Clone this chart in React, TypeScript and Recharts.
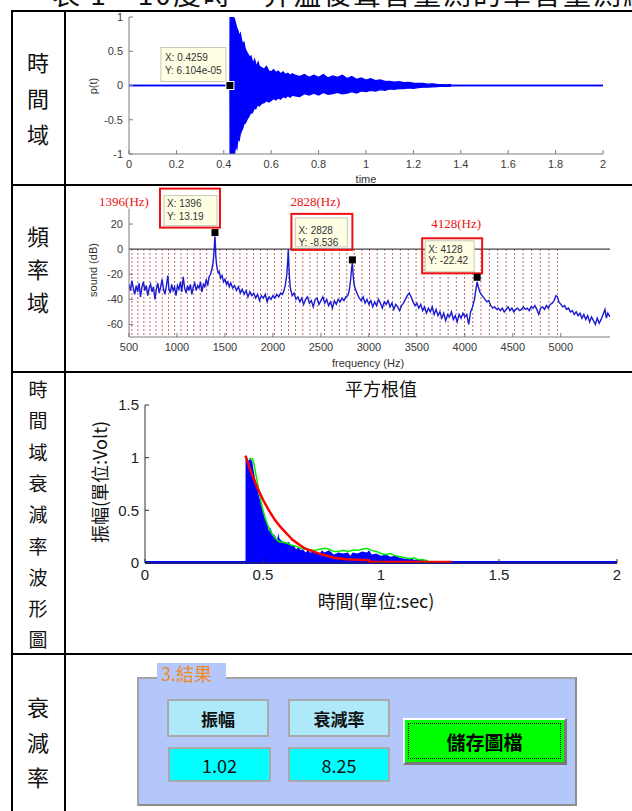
import React from "react";
import {
  Area,
  ComposedChart,
  Line,
  ReferenceDot,
  ReferenceLine,
  XAxis,
  YAxis,
} from "recharts";

const SANS = "'Liberation Sans', Arial, Helvetica, sans-serif";
const CJK = "'Noto Sans CJK TC', 'Noto Sans CJK SC', sans-serif";
const SERIF = "'Liberation Serif', 'Times New Roman', serif";

// ---------- row 1: time signal p(t), drawn as its min/max envelope ----------
const waveT = [
  0, 0.4259, 0.4265, 0.44, 0.445, 0.45, 0.455, 0.46, 0.465, 0.47,
  0.475, 0.48, 0.485, 0.49, 0.495, 0.5, 0.505, 0.51, 0.515, 0.52,
  0.525, 0.53, 0.535, 0.54, 0.545, 0.55, 0.56, 0.57, 0.58, 0.59,
  0.6, 0.61, 0.62, 0.63, 0.64, 0.65, 0.66, 0.67, 0.68, 0.69,
  0.7, 0.72, 0.74, 0.76, 0.78, 0.8, 0.82, 0.84, 0.86, 0.88,
  0.9, 0.92, 0.94, 0.96, 0.98, 1.0, 1.02, 1.04, 1.06, 1.08,
  1.1, 1.12, 1.14, 1.16, 1.18, 1.2, 1.22, 1.24, 1.26, 1.28,
  1.3, 1.32, 1.34, 1.355, 1.36, 2,
];
const waveHi = [
  0, 0, 1, 1, 0.97, 0.9, 0.84, 0.8, 0.72, 0.76,
  0.66, 0.6, 0.63, 0.54, 0.5, 0.47, 0.44, 0.41, 0.43, 0.36,
  0.33, 0.38, 0.31, 0.3, 0.34, 0.28, 0.26, 0.24, 0.28, 0.21,
  0.2, 0.23, 0.19, 0.21, 0.17, 0.2, 0.16, 0.18, 0.15, 0.17,
  0.15, 0.13, 0.16, 0.12, 0.15, 0.12, 0.16, 0.11, 0.14, 0.12,
  0.15, 0.1, 0.13, 0.09, 0.11, 0.08, 0.1, 0.07, 0.08, 0.06,
  0.06, 0.05, 0.055, 0.04, 0.045, 0.035, 0.03, 0.032, 0.02, 0.025,
  0.015, 0.012, 0.01, 0.014, 0, 0,
];
const waveLo = [
  0, 0, -1, -1, -1, -0.88, -0.92, -0.78, -0.8, -0.7,
  -0.66, -0.62, -0.56, -0.55, -0.52, -0.48, -0.46, -0.42, -0.4, -0.4,
  -0.36, -0.32, -0.34, -0.3, -0.28, -0.3, -0.26, -0.25, -0.22, -0.24,
  -0.22, -0.19, -0.21, -0.18, -0.2, -0.16, -0.18, -0.15, -0.17, -0.14,
  -0.15, -0.16, -0.12, -0.14, -0.11, -0.14, -0.1, -0.13, -0.12, -0.1,
  -0.12, -0.11, -0.09, -0.11, -0.08, -0.09, -0.07, -0.08, -0.06, -0.07,
  -0.05, -0.055, -0.04, -0.045, -0.035, -0.04, -0.03, -0.025, -0.025, -0.02,
  -0.015, -0.01, -0.012, -0.014, 0, 0,
];
const timeTicks = [0, 0.2, 0.4, 0.6, 0.8, 1, 1.2, 1.4, 1.6, 1.8, 2];
const ampTicks = [-1, -0.5, 0, 0.5, 1];
const onsetT = 0.4259;
const onsetY = 6.104e-5;

// ---------- row 2: spectrum ----------
const specHz = [
  500, 515, 530, 545, 560, 575, 590, 605, 620, 635, 650, 665, 680, 695, 710, 725, 740, 755, 770, 785,
  800, 815, 830, 845, 860, 875, 890, 905, 915, 930, 945, 960, 975, 990, 1005, 1020, 1035, 1050, 1065, 1080,
  1095, 1110, 1125, 1140, 1155, 1170, 1185, 1200, 1215, 1230, 1245, 1260, 1275, 1290, 1305, 1320, 1335, 1350, 1360, 1370,
  1380, 1388, 1393, 1396, 1400, 1405, 1412, 1420, 1430, 1440, 1455, 1470, 1485, 1500, 1515, 1530, 1545, 1560, 1580, 1600,
  1620, 1640, 1660, 1680, 1700, 1720, 1740, 1760, 1780, 1800, 1820, 1840, 1860, 1880, 1900, 1920, 1940, 1960, 1980, 2000,
  2020, 2040, 2060, 2080, 2100, 2115, 2130, 2145, 2155, 2160, 2165, 2172, 2180, 2190, 2200, 2220, 2240, 2260, 2280, 2300,
  2320, 2340, 2360, 2380, 2400, 2420, 2440, 2460, 2480, 2500, 2520, 2540, 2560, 2580, 2600, 2620, 2640, 2660, 2680, 2700,
  2720, 2740, 2760, 2780, 2795, 2810, 2820, 2828, 2835, 2845, 2860, 2880, 2900, 2920, 2940, 2960, 2980, 3000, 3020, 3040,
  3060, 3080, 3100, 3120, 3140, 3160, 3180, 3200, 3220, 3240, 3260, 3280, 3300, 3320, 3340, 3360, 3380, 3400, 3420, 3440,
  3460, 3480, 3500, 3520, 3540, 3560, 3580, 3600, 3620, 3640, 3660, 3680, 3700, 3720, 3740, 3760, 3780, 3800, 3820, 3840,
  3860, 3880, 3900, 3920, 3940, 3960, 3980, 4000, 4020, 4040, 4060, 4080, 4100, 4115, 4128, 4140, 4155, 4170, 4190, 4210,
  4230, 4250, 4270, 4290, 4310, 4330, 4350, 4370, 4390, 4410, 4430, 4450, 4470, 4490, 4510, 4530, 4550, 4570, 4590, 4610,
  4630, 4650, 4670, 4690, 4710, 4730, 4750, 4770, 4790, 4810, 4830, 4850, 4870, 4890, 4910, 4930, 4950, 4965, 4980, 5000,
  5020, 5040, 5060, 5080, 5100, 5120, 5140, 5160, 5180, 5200, 5220, 5240, 5260, 5280, 5300, 5320, 5340, 5360, 5380, 5400,
  5420, 5440, 5460, 5475, 5490, 5512,
];
const specDb = [
  -28, -33, -25, -31, -36, -29, -34, -27, -38, -30, -26, -33, -29, -37, -31, -28, -34, -30, -40, -32,
  -27, -35, -30, -24, -32, -36, -29, -21, -31, -35, -28, -33, -30, -37, -29, -32, -26, -34, -22, -31,
  -35, -29, -33, -28, -36, -30, -27, -33, -29, -31, -26, -34, -28, -30, -24, -29, -22, -20, -17, -14,
  -8, 0, 8, 10, 4, -6, -12, -16, -19, -18, -23, -21, -26, -24, -28, -26, -30, -27, -31, -29,
  -33, -30, -35, -32, -36, -33, -38, -34, -37, -35, -39, -36, -41, -37, -39, -36, -42, -38, -40, -37,
  -39, -36, -38, -35, -36, -33, -28, -20, -8, 0, -10, -22, -30, -34, -37, -35, -40, -38, -42, -39,
  -44, -40, -38, -43, -41, -46, -40, -39, -44, -41, -38, -43, -40, -45, -42, -47, -41, -44, -40, -42,
  -39, -41, -38, -37, -33, -24, -15, -11, -20, -28, -32, -36, -39, -41, -38, -43, -40, -44, -41, -46,
  -42, -45, -40, -43, -47, -42, -44, -41, -46, -43, -48, -44, -46, -49, -45, -43, -40, -37, -35, -38,
  -42, -45, -43, -47, -44, -49, -46, -51, -47, -50, -46, -52, -48, -53, -50, -55, -51, -57, -52, -54,
  -50, -56, -53, -58, -52, -55, -51, -54, -52, -60, -50, -46, -40, -32, -26, -30, -34, -36, -38, -40,
  -42, -41, -45, -47, -46, -48, -47, -49, -47, -50, -48, -46, -49, -47, -50, -48, -47, -49, -48, -46,
  -48, -47, -49, -46, -47, -45, -48, -52, -47, -46, -48, -45, -47, -44, -43, -41, -37, -38, -42, -44,
  -46, -45, -48, -47, -50, -49, -52, -50, -53, -51, -55, -52, -56, -53, -58, -54, -57, -60, -55, -59,
  -56, -52, -48, -55, -51, -54,
];
// dotted reference frequencies below the 0 dB line
const markHz = [
  530, 592, 655, 718, 782, 846, 911, 976, 1042, 1108, 1175, 1242, 1310, 1378, 1447, 1516, 1586, 1656,
  1727, 1798, 1870, 1942, 2015, 2088, 2162, 2236, 2311, 2386, 2462, 2538, 2615, 2692, 2770, 2848, 2927,
  3006, 3086, 3166, 3247, 3328, 3410, 3492, 3575, 3658, 3742, 3826, 3911, 3996, 4082, 4168, 4255, 4342,
  4430, 4518, 4607, 4696, 4786, 4876, 4966,
];
const hzTicks = [500, 1000, 1500, 2000, 2500, 3000, 3500, 4000, 4500, 5000];
const dbTicks = [-60, -40, -20, 0, 20];
const peakHz = [1396, 2828, 4128];
const peakDb = [13.19, -8.536, -22.42];

// ---------- row 3: RMS decay ----------
const rmsT = [
  0.4259, 0.426, 0.44, 0.445, 0.45, 0.455, 0.46, 0.47, 0.48, 0.49,
  0.5, 0.51, 0.52, 0.525, 0.53, 0.54, 0.55, 0.56, 0.565, 0.57,
  0.58, 0.59, 0.6, 0.61, 0.62, 0.63, 0.64, 0.65, 0.66, 0.67,
  0.68, 0.69, 0.7, 0.72, 0.74, 0.75, 0.76, 0.78, 0.8, 0.82,
  0.84, 0.86, 0.87, 0.88, 0.9, 0.92, 0.94, 0.95, 0.96, 0.98,
  1.0, 1.02, 1.04, 1.06, 1.08, 1.1, 1.12, 1.14, 1.16, 1.18,
  1.2, 1.25, 1.3, 1.3001,
];
const rmsV = [
  0, 1.0, 0.97, 0.99, 0.98, 0.96, 0.88, 0.76, 0.66, 0.58,
  0.5, 0.43, 0.36, 0.3, 0.34, 0.28, 0.26, 0.22, 0.28, 0.23,
  0.21, 0.2, 0.19, 0.2, 0.16, 0.17, 0.13, 0.15, 0.12, 0.13,
  0.1, 0.12, 0.1, 0.11, 0.09, 0.12, 0.1, 0.12, 0.08, 0.1,
  0.09, 0.1, 0.07, 0.1, 0.09, 0.11, 0.1, 0.12, 0.08, 0.09,
  0.07, 0.08, 0.06, 0.07, 0.05, 0.04, 0.05, 0.03, 0.035, 0.025,
  0.02, 0.01, 0.005, 0,
];
const envT = [
  0.44, 0.455, 0.46, 0.47, 0.48, 0.49, 0.5, 0.51, 0.52, 0.53,
  0.54, 0.55, 0.56, 0.57, 0.58, 0.6, 0.62, 0.64, 0.66, 0.68,
  0.7, 0.72, 0.74, 0.76, 0.78, 0.8, 0.82, 0.84, 0.86, 0.88,
  0.9, 0.92, 0.94, 0.96, 0.98, 1.0, 1.02, 1.04, 1.06, 1.08,
  1.1, 1.12, 1.14, 1.16, 1.18, 1.2,
];
const envV = [
  0.99, 0.99, 0.96, 0.84, 0.72, 0.6, 0.5, 0.42, 0.36, 0.31,
  0.27, 0.24, 0.22, 0.2, 0.2, 0.19, 0.17, 0.16, 0.14, 0.13,
  0.12, 0.12, 0.13, 0.14, 0.13, 0.11, 0.11, 0.12, 0.11, 0.12,
  0.12, 0.13, 0.14, 0.12, 0.11, 0.09, 0.08, 0.09, 0.07, 0.06,
  0.05, 0.04, 0.05, 0.03, 0.03, 0.02,
];
const fitT = [
  0.4259, 0.45, 0.475, 0.5, 0.525, 0.55, 0.575, 0.6, 0.625, 0.65,
  0.675, 0.7, 0.75, 0.8, 0.85, 0.9, 0.95, 0.951, 1.3,
];
const fitV = [
  1.02, 0.86, 0.72, 0.6, 0.5, 0.41, 0.34, 0.28, 0.22, 0.18,
  0.14, 0.12, 0.08, 0.05, 0.035, 0.03, 0.025, 0.01, 0.01,
];
const secTicks = [0, 0.5, 1, 1.5, 2];
const voltTicks = [0, 0.5, 1, 1.5];

// ---------- row 4: result panel ----------
const resultLabels = ["振幅", "衰減率"];
const resultValues = ["1.02", "8.25"];

const frame = "#7c7c7c";

function HtmlText({
  x, y, size, children, rotate = false, color = "#222", font = SANS, weight = 400,
}: {
  x: number; y: number; size: number; children: React.ReactNode;
  rotate?: boolean; color?: string; font?: string; weight?: number;
}) {
  return (
    <div
      style={{
        position: "absolute", left: x, top: y, fontSize: size, fontFamily: font,
        color, fontWeight: weight, whiteSpace: "nowrap", lineHeight: 1,
        transform: `translate(-50%, -50%)${rotate ? " rotate(-90deg)" : ""}`,
      }}
    >
      {children}
    </div>
  );
}

// square marker + MATLAB data tip, drawn relative to the marker position
function OnsetTip(props: any) {
  const { cx, cy } = props;
  return (
    <g>
      <rect x={cx - 69} y={cy - 38} width={65} height={34} fill="#ffffe4" stroke="#c8c8b8" />
      <text x={cx - 65} y={cy - 27.5} fontSize={10} fill="#333" fontFamily={SANS} dominantBaseline="middle">
        X: {onsetT}
      </text>
      <text x={cx - 65} y={cy - 14.5} fontSize={10} fill="#333" fontFamily={SANS} dominantBaseline="middle">
        Y: 6.104e-05
      </text>
      <rect x={cx - 4} y={cy - 4} width={8} height={8} fill="#000" stroke="#fff" strokeWidth={1} />
    </g>
  );
}

const peakLayout = [
  { red: [-55, -44, 60, 39], tip: [-51, -37, 53, 30], text: [-48, -28, -15.5], hz: [-91, -29.5] },
  { red: [-61, -46, 61, 36], tip: [-57, -42, 52, 29], text: [-54, -29, -16.4], hz: [-37, -56.7] },
  { red: [-55, -39, 60, 35], tip: [-52, -36.5, 49, 31], text: [-49, -27.3, -15.6], hz: [-21, -52.3] },
];

function PeakTip(props: any) {
  const { cx, cy, idx } = props;
  const L = peakLayout[idx];
  return (
    <g>
      <rect x={cx + L.tip[0]} y={cy + L.tip[1]} width={L.tip[2]} height={L.tip[3]} fill="#ffffe4" stroke="#c8c8b8" />
      <text x={cx + L.text[0]} y={cy + L.text[1]} fontSize={10} fill="#333" fontFamily={SANS} dominantBaseline="middle">
        X: {peakHz[idx]}
      </text>
      <text x={cx + L.text[0]} y={cy + L.text[2]} fontSize={10} fill="#333" fontFamily={SANS} dominantBaseline="middle">
        Y: {peakDb[idx]}
      </text>
      <rect x={cx + L.red[0]} y={cy + L.red[1]} width={L.red[2]} height={L.red[3]} fill="none" stroke="#ee1111" strokeWidth={2} />
      <text x={cx + L.hz[0]} y={cy + L.hz[1]} fontSize={13} fill="#ee1111" fontFamily={SERIF} textAnchor="middle" dominantBaseline="middle">
        {peakHz[idx]}(Hz)
      </text>
      <rect x={cx - 3.5} y={cy - 3.5} width={7} height={7} fill="#000" />
    </g>
  );
}

function TimeChart() {
  const data = waveT.map((t, i) => ({ t, band: [waveLo[i], waveHi[i]] }));
  const tickStyle = { fill: "#3a3a3a", fontSize: 11, fontFamily: SANS };
  return (
    <ComposedChart width={566} height={178} data={data} margin={{ top: 10, right: 29, bottom: 0, left: 0 }}>
      <XAxis dataKey="t" type="number" domain={[0, 2]} ticks={timeTicks} interval={0} allowDataOverflow
        height={31} tickSize={-4} tickMargin={10} stroke={frame} tick={tickStyle} />
      <XAxis xAxisId="top" orientation="top" type="number" domain={[0, 2]} ticks={timeTicks} interval={0}
        allowDataOverflow height={0} tickSize={-4} tick={false} stroke={frame} />
      <YAxis type="number" domain={[-1, 1]} ticks={ampTicks} interval={0} allowDataOverflow width={63}
        tickSize={-4} tickMargin={10} stroke={frame} tick={tickStyle} />
      <YAxis yAxisId="right" orientation="right" type="number" domain={[-1, 1]} ticks={ampTicks} interval={0}
        allowDataOverflow width={0} tickSize={-4} tick={false} stroke={frame} />
      <Area dataKey="band" type="linear" stroke="#0000ff" strokeWidth={1.3} fill="#0000ff" fillOpacity={1}
        dot={false} activeDot={false} isAnimationActive={false} />
      <ReferenceDot x={onsetT} y={onsetY} shape={(p: any) => <OnsetTip {...p} />} />
    </ComposedChart>
  );
}

function SpectrumChart() {
  const data = specHz.map((f, i) => ({ f, db: specDb[i] }));
  const tickStyle = { fill: "#3a3a3a", fontSize: 11, fontFamily: SANS };
  return (
    <ComposedChart width={566} height={185} data={data} margin={{ top: 22, right: 22, bottom: 0, left: 0 }}>
      <XAxis dataKey="f" type="number" domain={[500, 5512.5]} ticks={hzTicks} interval={0} allowDataOverflow
        height={35} tickSize={-4} tickMargin={10} stroke={frame} tick={tickStyle} />
      <XAxis xAxisId="top" orientation="top" type="number" domain={[500, 5512.5]} ticks={hzTicks} interval={0}
        allowDataOverflow height={0} tickSize={-4} tick={false} stroke={frame} />
      <YAxis type="number" domain={[-70, 32]} ticks={dbTicks} interval={0} allowDataOverflow width={63}
        tickSize={-4} tickMargin={10} stroke={frame} tick={tickStyle} />
      <YAxis yAxisId="right" orientation="right" type="number" domain={[-70, 32]} ticks={dbTicks} interval={0}
        allowDataOverflow width={0} tickSize={-4} tick={false} stroke={frame} />
      {markHz.map((h) => (
        <ReferenceLine key={h} segment={[{ x: h, y: 0 }, { x: h, y: -70 }]} stroke="#b0303a"
          strokeWidth={1} strokeDasharray="1.5 2.5" />
      ))}
      <ReferenceLine y={0} stroke="#444" strokeWidth={1.2} />
      <Line dataKey="db" type="linear" stroke="#1a1ad0" strokeWidth={1.4} dot={false} activeDot={false}
        isAnimationActive={false} />
      {peakHz.map((h, i) => (
        <ReferenceDot key={h} x={h} y={peakDb[i]} shape={(p: any) => <PeakTip {...p} idx={i} />} />
      ))}
    </ComposedChart>
  );
}

function RmsChart() {
  const blue = rmsT.map((t, i) => ({ t, v: rmsV[i] }));
  const green = envT.map((t, i) => ({ t, v: envV[i] }));
  const red = fitT.map((t, i) => ({ t, v: fitV[i] }));
  const tickStyle = { fill: "#222", fontSize: 15, fontFamily: SANS };
  return (
    <ComposedChart width={566} height={279} margin={{ top: 31, right: 15, bottom: 0, left: 0 }}>
      <XAxis dataKey="t" type="number" domain={[0, 2]} ticks={secTicks} interval={0} allowDataOverflow
        height={90} tickSize={-4} tickMargin={10} stroke="#333" tick={tickStyle} />
      <XAxis xAxisId="top" orientation="top" type="number" domain={[0, 2]} ticks={secTicks} interval={0}
        allowDataOverflow height={0} tickSize={-4} tick={false} stroke="#333" />
      <YAxis type="number" domain={[0, 1.5]} ticks={voltTicks} interval={0} allowDataOverflow width={79}
        tickSize={-4} tickMargin={10} stroke="#333" tick={tickStyle} />
      <YAxis yAxisId="right" orientation="right" type="number" domain={[0, 1.5]} ticks={voltTicks} interval={0}
        allowDataOverflow width={0} tickSize={-4} tick={false} stroke="#333" />
      <Area data={blue} dataKey="v" type="linear" stroke="none" fill="#0000ff" fillOpacity={1}
        dot={false} activeDot={false} isAnimationActive={false} />
      <ReferenceLine y={0.004} stroke="#0000ff" strokeWidth={3} />
      <Line data={green} dataKey="v" type="linear" stroke="#00ee00" strokeWidth={1.5} dot={false}
        activeDot={false} isAnimationActive={false} />
      <Line data={red} dataKey="v" type="linear" stroke="#ff0000" strokeWidth={2.5} dot={false}
        activeDot={false} isAnimationActive={false} />
    </ComposedChart>
  );
}

function VLabel({ chars, x, y0, gap, size }: { chars: string; x: number; y0: number; gap: number; size: number }) {
  return (
    <>
      {Array.from(chars).map((c, i) => (
        <HtmlText key={i} x={x} y={y0 + i * gap} size={size} font={CJK} color="#111">
          {c}
        </HtmlText>
      ))}
    </>
  );
}

function Box({ left, top, width, height, bg, children, size, weight = 400 }: any) {
  return (
    <div
      style={{
        position: "absolute", left, top, width, height, boxSizing: "border-box", background: bg,
        border: "2px solid #a9a9a9", display: "flex", alignItems: "center", justifyContent: "center",
        fontFamily: CJK, fontSize: size, fontWeight: weight, color: "#111",
      }}
    >
      {children}
    </div>
  );
}

function ResultPanel() {
  return (
    <>
      <div style={{ position: "absolute", left: 137, top: 677, width: 440, height: 129, boxSizing: "border-box",
        background: "#b4c7fb", borderTop: "2px solid #a3a3a3", borderLeft: "2px solid #a3a3a3",
        borderRight: "2px solid #8e8e8e", borderBottom: "2px solid #8e8e8e" }} />
      <div style={{ position: "absolute", left: 157, top: 663, width: 69, height: 21, background: "#b4c7fb" }} />
      <div style={{ position: "absolute", left: 161, top: 662, fontFamily: CJK, fontSize: 18, color: "#f08a1e", lineHeight: "22px" }}>
        3.結果
      </div>
      <Box left={167} top={699} width={102} height={38} bg="#aee9fb" size={17} weight={700}>{resultLabels[0]}</Box>
      <Box left={288} top={699} width={102} height={38} bg="#aee9fb" size={17} weight={700}>{resultLabels[1]}</Box>
      <Box left={168} top={747} width={103} height={35} bg="#00ffff" size={18}>{resultValues[0]}</Box>
      <Box left={288} top={747} width={102} height={35} bg="#00ffff" size={18}>{resultValues[1]}</Box>
      <div style={{ position: "absolute", left: 403, top: 718, width: 164, height: 47, boxSizing: "border-box",
        background: "#00ff00", borderTop: "2px solid #ffffff", borderLeft: "2px solid #ffffff",
        borderRight: "3px solid #7a7a7a", borderBottom: "3px solid #7a7a7a" }}>
        <div style={{ position: "absolute", left: 3, top: 3, right: 3, bottom: 3, border: "1px dotted #000",
          display: "flex", alignItems: "center", justifyContent: "center", fontFamily: CJK, fontSize: 19,
          fontWeight: 700, color: "#000" }}>
          儲存圖檔
        </div>
      </div>
    </>
  );
}

export default function App() {
  const hLine = (top: number) => (
    <div style={{ position: "absolute", left: 11, top, width: 640, height: 2, background: "#000" }} />
  );
  return (
    <div style={{ position: "absolute", left: 0, top: 0, width: 632, height: 811, overflow: "hidden", background: "#fff" }}>
      {/* caption line, mostly cut off by the page edge */}
      <div style={{ position: "absolute", left: 0, top: 0, width: 632, height: 9, overflow: "hidden" }}>
        <div style={{ position: "absolute", left: 52, top: -21, fontFamily: CJK, fontSize: 28, lineHeight: "28px",
          color: "#111", whiteSpace: "nowrap", letterSpacing: 2 }}>
          表 1　10度時，昇溫後聲音量測的單音量測結果
        </div>
      </div>

      {hLine(10)}
      {hLine(184)}
      {hLine(371)}
      {hLine(653)}
      <div style={{ position: "absolute", left: 11, top: 10, width: 2, height: 820, background: "#000" }} />
      <div style={{ position: "absolute", left: 64, top: 10, width: 2, height: 820, background: "#000" }} />

      <VLabel chars="時間域" x={38} y0={61} gap={36} size={22} />
      <VLabel chars="頻率域" x={38} y0={235} gap={33} size={22} />
      <VLabel chars="時間域衰減率波形圖" x={38} y0={388} gap={31.3} size={19} />
      <VLabel chars="衰減率" x={38} y0={706} gap={35} size={22} />

      <div style={{ position: "absolute", left: 66, top: 7 }}>
        <TimeChart />
      </div>
      <HtmlText x={93} y={86} size={11} rotate color="#333">p(t)</HtmlText>
      <HtmlText x={366} y={179} size={11} color="#333">time</HtmlText>

      <div style={{ position: "absolute", left: 66, top: 187 }}>
        <SpectrumChart />
      </div>
      <HtmlText x={93} y={270} size={11} rotate color="#333">sound (dB)</HtmlText>
      <HtmlText x={368} y={363} size={11} color="#333">frequency (Hz)</HtmlText>

      <div style={{ position: "absolute", left: 66, top: 374 }}>
        <RmsChart />
      </div>
      <HtmlText x={381} y={388} size={18} font={CJK} color="#111">平方根值</HtmlText>
      <HtmlText x={376} y={600} size={18} font={CJK} color="#111">時間(單位:sec)</HtmlText>
      <HtmlText x={99} y={482} size={18} font={CJK} rotate color="#111">振幅(單位:Volt)</HtmlText>

      <ResultPanel />
    </div>
  );
}
